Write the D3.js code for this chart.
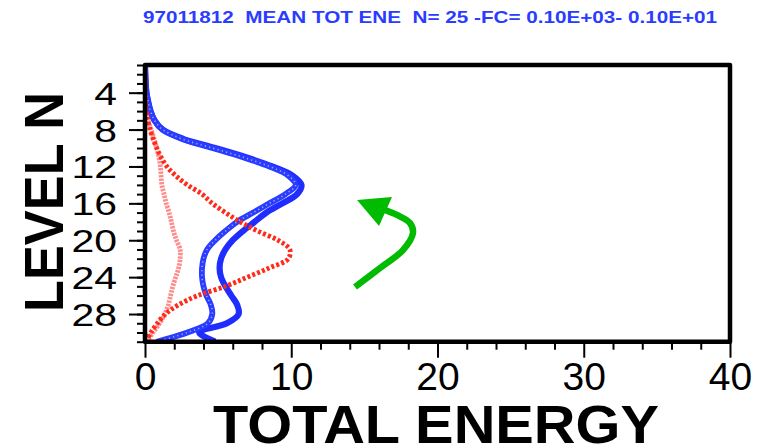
<!DOCTYPE html>
<html><head><meta charset="utf-8">
<script src="https://cdn.jsdelivr.net/npm/d3@7"></script>
<style>
html,body{margin:0;padding:0;background:#fff;}
svg{display:block;}
</style></head>
<body>
<svg id="chart" width="761" height="448"></svg>
<script>
// ---- data ----
const levels = [1,2,3,4,5,6,7,8,9,10,11,12,13,14,15,16,17,18,19,20,21,22,23,24,25,26,27,28,29,30,31];
const blueSolid  = [0,0.02,0.05,0.1,0.22,0.38,0.65,1.2,2.6,4.8,6.9,8.7,10.1,10.7,10.4,9.4,8.3,7.5,6.7,6.0,5.5,5.2,5.1,5.2,5.5,5.9,6.3,6.4,5.6,3.7,4.8];
const blueDotted = [0,0.02,0.05,0.1,0.22,0.38,0.65,1.2,2.5,4.6,6.7,8.5,9.8,10.3,9.6,8.5,7.4,6.3,5.5,4.8,4.25,4.0,3.9,3.9,4.0,4.2,4.5,4.6,4.3,2.9,0.8];
const redDotted  = [0,0,0,0,0.03,0.1,0.2,0.35,0.55,0.8,1.1,1.5,2.1,2.9,3.9,4.6,5.5,6.5,7.7,9.1,9.9,9.8,8.5,7.0,5.5,3.6,2.3,1.4,0.85,0.4,0.1];
const lightRed   = [0,0,0,0,0.02,0.08,0.2,0.42,0.62,0.8,0.95,1.05,1.1,1.15,1.3,1.45,1.65,1.8,1.95,2.15,2.4,2.4,2.3,2.1,1.9,1.75,1.6,1.35,1.0,0.55,0.1];
const xMajorTicks = [0,10,20,30,40];
const xMinorTicks = [2,4,6,8,12,14,16,18,22,24,26,28,32,34,36,38];
const yMajorTicks = [4,8,12,16,20,24,28];
const titleText = "97011812  MEAN TOT ENE  N= 25 -FC= 0.10E+03- 0.10E+01";
const xLabel = "TOTAL ENERGY";
const yLabel = "LEVEL N";
// annotation arrow in data space (value, level)
const arrowShaft = [[14.36,25.07],[16.07,23.01],[17.64,21.06],[18.32,19.22],[18.12,18.13],[17.23,17.26],[16.41,16.72]];
const arrowHead = [[14.5,15.64],[16.89,15.31],[16.0,18.46]];

// ---- layout ----
const svg = d3.select("#chart");
const L = 145, R = 730, T = 65, B = 341.7;
const x = d3.scaleLinear().domain([0,40]).range([L,R]);
const y = d3.scaleLinear().domain([1,31]).range([T,B]);

svg.append("defs").append("clipPath").attr("id","clip")
  .append("rect").attr("x",L).attr("y",T).attr("width",R-L).attr("height",B-T);

const g = svg.append("g").attr("clip-path","url(#clip)");
const line = d3.line().x(d=>x(d[0])).y(d=>y(d[1])).curve(d3.curveCatmullRom.alpha(0.5));
const pts = arr => levels.map((l,i)=>[arr[i], l]);

// light red
g.append("path").attr("d", line(pts(lightRed))).attr("fill","none")
  .attr("stroke","#ff8c8c").attr("stroke-width",4.8).attr("stroke-dasharray","2.4,1.1");
// blue solid
g.append("path").attr("d", line(pts(blueSolid))).attr("fill","none")
  .attr("stroke","#1f2eff").attr("stroke-width",6.2).attr("stroke-linejoin","round");
// blue dotted
g.append("path").attr("d", line(pts(blueDotted))).attr("fill","none")
  .attr("stroke","#2a3cff").attr("stroke-width",5.8);
g.append("path").attr("d", line(pts(blueDotted))).attr("fill","none")
  .attr("stroke","#ffffff").attr("stroke-opacity",0.55).attr("stroke-width",1.6).attr("stroke-dasharray","1.2,3.2");
// red dotted
g.append("path").attr("d", line(pts(redDotted))).attr("fill","none")
  .attr("stroke","#ff2a1a").attr("stroke-width",4.8).attr("stroke-dasharray","3,2.2");

// arrow annotation
const arrowLine = d3.line().x(d=>x(d[0])).y(d=>y(d[1])).curve(d3.curveCatmullRom.alpha(0.5));
svg.append("path").attr("d", arrowLine(arrowShaft)).attr("fill","none")
  .attr("stroke","#00bb00").attr("stroke-width",6.5).attr("stroke-linecap","butt");
svg.append("path").attr("d", "M" + arrowHead.map(d=>[x(d[0]),y(d[1])].join(",")).join("L") + "Z")
  .attr("fill","#00bb00");

// axes
const axX = svg.append("g").attr("transform",`translate(0,${B})`);
axX.append("g").call(d3.axisBottom(x).tickValues(xMinorTicks).tickSize(8).tickFormat(""))
  .call(a=>a.select(".domain").remove());
const axXM = axX.append("g").call(d3.axisBottom(x).tickValues(xMajorTicks).tickSize(16).tickFormat(d3.format("d")))
  .call(a=>a.select(".domain").remove());
axX.selectAll("line").attr("stroke","#000").attr("stroke-width",2);
axXM.selectAll("text").attr("dy",null).attr("y",48).attr("font-family","Liberation Sans, Arial, sans-serif")
  .attr("font-size",39).attr("fill","#000");

const axY = svg.append("g").attr("transform",`translate(${L},0)`);
axY.append("g").call(d3.axisLeft(y).tickValues(levels).tickSize(8).tickFormat(""))
  .call(a=>a.select(".domain").remove());
const axYM = axY.append("g").call(d3.axisLeft(y).tickValues(yMajorTicks).tickSize(16).tickFormat(d3.format("d")))
  .call(a=>a.select(".domain").remove());
axY.selectAll("line").attr("stroke","#000").attr("stroke-width",2);
axYM.selectAll("text").attr("x",-28/1.28).attr("dy","0.36em").attr("transform","scale(1.28,1)")
  .attr("font-family","Liberation Sans, Arial, sans-serif").attr("font-size",32).attr("fill","#000");

// frame
svg.append("rect").attr("x",L).attr("y",T).attr("width",R-L).attr("height",B-T)
  .attr("fill","none").attr("stroke","#000").attr("stroke-width",4.5).attr("stroke-linejoin","round");

// texts
svg.append("text").attr("x",143).attr("y",23).text(titleText)
  .attr("font-family","Liberation Sans, Arial, sans-serif").attr("font-weight","bold")
  .attr("font-size",17).attr("fill","#2a3cff").attr("textLength",574).attr("lengthAdjust","spacingAndGlyphs")
  .style("white-space","pre").attr("xml:space","preserve");
svg.append("text").attr("x",436).attr("y",443).attr("text-anchor","middle").text(xLabel)
  .attr("font-family","Liberation Sans, Arial, sans-serif").attr("font-weight","bold")
  .attr("font-size",54).attr("fill","#000").attr("textLength",446).attr("lengthAdjust","spacingAndGlyphs");
svg.append("text").attr("transform","translate(63,202) rotate(-90)").attr("text-anchor","middle").text(yLabel)
  .attr("font-family","Liberation Sans, Arial, sans-serif").attr("font-weight","bold")
  .attr("font-size",56).attr("fill","#000").attr("textLength",220).attr("lengthAdjust","spacingAndGlyphs");
</script>
</body></html>
